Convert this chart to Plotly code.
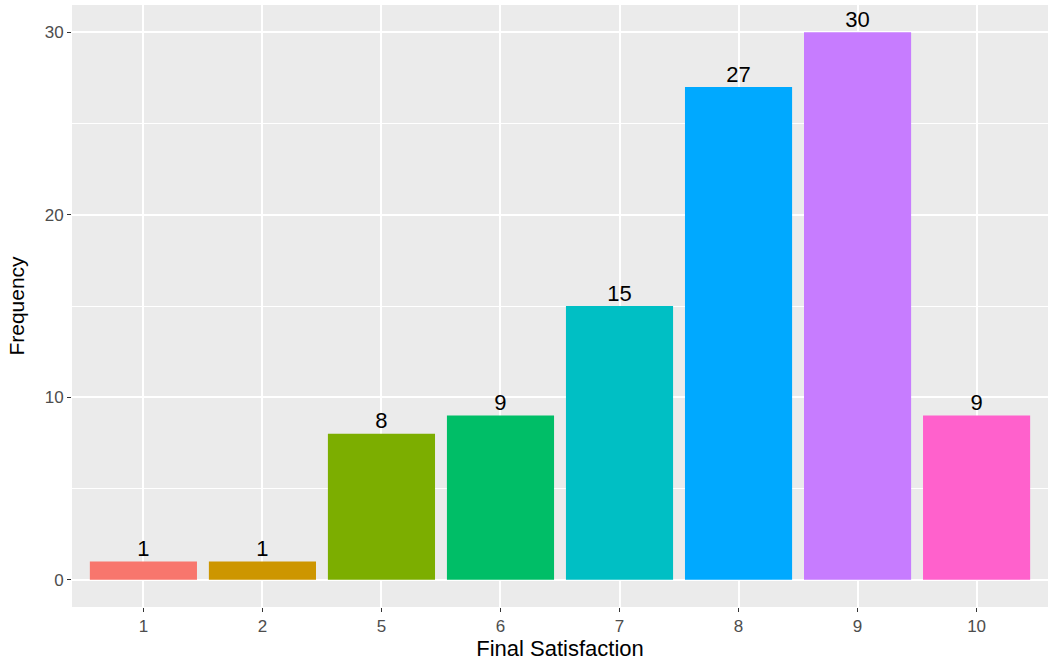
import plotly.graph_objects as go

categories = ["1", "2", "5", "6", "7", "8", "9", "10"]
counts = [1, 1, 8, 9, 15, 27, 30, 9]
colors = ["#F8766D", "#CD9600", "#7CAE00", "#00BE67", "#00BFC4", "#00A9FF", "#C77CFF", "#FF61CC"]
y_ticks = [0, 10, 20, 30]

fig = go.Figure()
fig.add_trace(go.Bar(
    x=categories, y=counts, marker=dict(color=colors, line=dict(width=0)),
    width=0.9, showlegend=False, hoverinfo="x+y",
))
fig.add_trace(go.Scatter(
    x=categories, y=counts, mode="text", text=[str(c) for c in counts],
    textposition="top center",
    textfont=dict(family="Liberation Sans, Arial", size=22, color="black"),
    showlegend=False, hoverinfo="skip",
))

fig.update_layout(
    width=1049, height=662,
    margin=dict(l=72, r=1, t=5, b=55),
    paper_bgcolor="white", plot_bgcolor="#EBEBEB",
    font=dict(family="Liberation Sans, Arial", size=17, color="#4D4D4D"),
    bargap=0.1,
)
fig.update_xaxes(
    type="category", range=[-0.6, 7.6], automargin=False,
    showgrid=True, gridcolor="white", gridwidth=1.6,
    ticks="outside", ticklen=4, tickcolor="#333333", tickwidth=1.2,
    tickfont=dict(size=17, color="#4D4D4D"),
    title=dict(text="Final Satisfaction", font=dict(size=22, color="black"), standoff=4),
    zeroline=False, showline=False,
)
fig.update_yaxes(
    range=[-1.5, 31.5], tickvals=y_ticks, automargin=False,
    showgrid=True, gridcolor="white", gridwidth=1.6,
    minor=dict(dtick=5, tick0=0, showgrid=True, gridcolor="white", gridwidth=0.7),
    ticks="outside", ticklen=4, tickcolor="#333333", tickwidth=1.2,
    tickfont=dict(size=17, color="#4D4D4D"),
    title=dict(text="Frequency", font=dict(size=21, color="black"), standoff=14),
    zeroline=False, showline=False,
)

fig.write_html("out.html", config={"displayModeBar": False},
               post_script="document.body.style.margin='0';")
